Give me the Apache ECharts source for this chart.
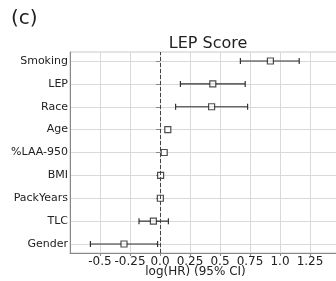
<!DOCTYPE html>
<html>
<head>
<meta charset="utf-8">
<script src="https://cdn.jsdelivr.net/npm/echarts@6/dist/echarts.min.js"></script>
<style>
  html, body { margin: 0; padding: 0; background: #fff; }
  #chart { width: 336px; height: 281px; }
</style>
</head>
<body>
<div id="chart"></div>
<script>
// covariates, top to bottom
var covariates = ['Smoking', 'LEP', 'Race', 'Age', '%LAA-950', 'BMI', 'PackYears', 'TLC', 'Gender'];
// log(HR) point estimates
var logHR = [0.92, 0.44, 0.43, 0.065, 0.035, 0.005, 0.003, -0.055, -0.30];
// 95% CI bounds
var ciLow = [0.67, 0.17, 0.13, 0.065, 0.035, 0.005, 0.003, -0.175, -0.58];
var ciHigh = [1.16, 0.71, 0.73, 0.065, 0.035, 0.005, 0.003, 0.07, -0.02];
var xTicks = [-0.5, -0.25, 0.0, 0.25, 0.5, 0.75, 1.0, 1.25];

var font = 'DejaVu Sans';
var xMin = -0.75, xMax = 1.475;

var chart = echarts.init(document.getElementById('chart'));

var ciData = covariates.map(function (c, i) {
  return [c, ciLow[i], ciHigh[i]];
});
var pointData = covariates.map(function (c, i) {
  return [logHR[i], c];
});

chart.setOption({
  animation: false,
  title: [{
    text: '(c)',
    left: 6,
    top: 4,
    textStyle: { fontFamily: font, fontSize: 20, fontWeight: 'normal', color: '#222' }
  }, {
    text: 'LEP Score',
    left: 203,
    textAlign: 'center',
    top: 31,
    textStyle: { fontFamily: font, fontSize: 16, fontWeight: 'normal', color: '#222' }
  }],
  grid: [
    // frame: full axes box
    { left: 70, right: -1, top: 52, bottom: 28, outerBoundsMode: 'none', show: true, borderColor: '#c8c8c8', borderWidth: 1 },
    // rows: first and last row centres
    { left: 70, right: -1, top: 61, bottom: 37, outerBoundsMode: 'none' }
  ],
  xAxis: [{
    gridIndex: 0,
    type: 'value',
    min: xMin,
    max: xMax,
    interval: 0.25,
    name: 'log(HR) (95% CI)',
    nameLocation: 'middle',
    nameGap: 13,
    nameMoveOverlap: false,
    nameTextStyle: { fontFamily: font, fontSize: 12, color: '#222', padding: [0, 16, 0, 0] },
    axisLine: { onZero: false, lineStyle: { color: '#888' } },
    axisTick: { show: true, length: 3, lineStyle: { color: '#888' } },
    axisLabel: {
      fontFamily: font,
      fontSize: 12,
      color: '#222',
      margin: 3,
      showMinLabel: false,
      showMaxLabel: false,
      formatter: function (v) {
        if (xTicks.indexOf(v) < 0) return '';
        if (v === 0) return '0.0';
        if (v === 1) return '1.0';
        return String(v);
      }
    },
    splitLine: { show: true, lineStyle: { color: '#d9d9d9' } }
  }, {
    gridIndex: 1,
    type: 'value',
    min: xMin,
    max: xMax,
    show: false
  }],
  yAxis: [{
    gridIndex: 0,
    type: 'value',
    min: 0,
    max: 1,
    axisLine: { show: true, onZero: false, lineStyle: { color: '#888' } },
    axisTick: { show: false },
    axisLabel: { show: false },
    splitLine: { show: false }
  }, {
    gridIndex: 1,
    type: 'category',
    data: covariates,
    inverse: true,
    boundaryGap: false,
    axisLine: { show: false },
    axisTick: { show: true, length: 4, lineStyle: { color: '#888' } },
    axisLabel: { fontFamily: font, fontSize: 11, color: '#222', margin: 2 },
    splitLine: { show: true, lineStyle: { color: '#d9d9d9' } }
  }],
  series: [{
    // zero reference line across the whole box
    type: 'line',
    xAxisIndex: 0,
    yAxisIndex: 0,
    data: [],
    markLine: {
      silent: true,
      symbol: 'none',
      label: { show: false },
      lineStyle: { color: '#444', type: 'dashed', width: 1 },
      data: [{ xAxis: 0 }]
    }
  }, {
    type: 'custom',
    xAxisIndex: 1,
    yAxisIndex: 1,
    z: 3,
    renderItem: function (params, api) {
      var lo = api.coord([api.value(1), api.value(0)]);
      var hi = api.coord([api.value(2), api.value(0)]);
      var cap = 3;
      var style = { stroke: '#333', lineWidth: 1.2 };
      if (Math.abs(hi[0] - lo[0]) < 1) return null;
      return {
        type: 'group',
        children: [
          { type: 'line', shape: { x1: lo[0], y1: lo[1], x2: hi[0], y2: hi[1] }, style: style },
          { type: 'line', shape: { x1: lo[0], y1: lo[1] - cap, x2: lo[0], y2: lo[1] + cap }, style: style },
          { type: 'line', shape: { x1: hi[0], y1: hi[1] - cap, x2: hi[0], y2: hi[1] + cap }, style: style }
        ]
      };
    },
    encode: { x: [1, 2], y: 0 },
    data: ciData
  }, {
    type: 'scatter',
    xAxisIndex: 1,
    yAxisIndex: 1,
    z: 4,
    symbol: 'rect',
    symbolSize: 6,
    itemStyle: { color: '#fff', borderColor: '#222', borderWidth: 1.2 },
    data: pointData
  }]
});
</script>
</body>
</html>
